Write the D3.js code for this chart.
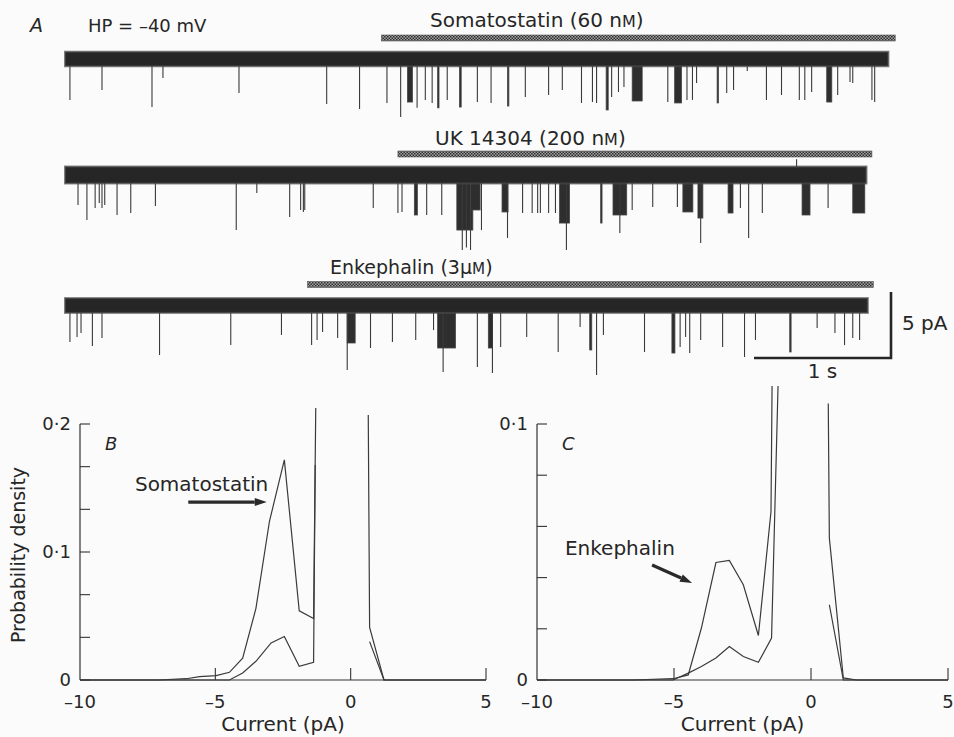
<!DOCTYPE html>
<html>
<head>
<meta charset="utf-8">
<script src="https://cdn.jsdelivr.net/npm/d3@7"></script>
<style>
  html, body { margin: 0; padding: 0; background: #fbfbfb; }
  svg { display: block; font-family: "DejaVu Sans", sans-serif; }
  text { fill: #262626; }
</style>
</head>
<body>
<svg id="chart" width="954" height="737"></svg>
<script>
// ---------------- DATA ----------------
// Panel A: single-channel traces. Events: [time (s), amplitude (pA), duration (s)]
const traceNames = ["Somatostatin", "UK 14304", "Enkephalin"];
const drugLabels = ["Somatostatin (60 n", "UK 14304 (200 n", "Enkephalin (3\u03bc"];
const drugUnitTail = ["M)", "M)", "M)"];
const traceDurations = [6.01, 5.85, 5.86];
const drugOn = [2.31, 2.43, 1.77];
const drugOff = [6.06, 5.89, 5.90];
const bandHalfWidth = [0.55, 0.64, 0.56]; // pA, open-channel noise band
const upEvents2 = [[5.34, 1.2]];

const events1 = [
  [0.036,-3.1,0],[0.27,-2.35,0],[0.635,-3.64,0],[0.715,-1.44,0],[1.27,-2.58,0],
  [1.91,-3.41,0],[2.15,-3.79,0],[2.35,-3.33,0],[2.45,-4.39,0],[2.50,-3.26,0.036],
  [2.57,-3.7,0],[2.63,-3.1,0],[2.68,-3.33,0],[2.72,-3.7,0.01],[2.79,-3.1,0],
  [2.88,-3.64,0.012],[3.01,-3.26,0],[3.11,-3.33,0],[3.23,-3.56,0.01],[3.36,-2.88,0],
  [3.53,-2.73,0],[3.63,-2.35,0],[3.77,-3.33,0],[3.85,-3.26,0],[3.88,-3.33,0],
  [3.95,-3.86,0.015],[3.99,-2.88,0],[4.04,-2.5,0],[4.08,-2.12,0],[4.14,-3.18,0.073],
  [4.40,-3.26,0],[4.45,-3.33,0.05],[4.54,-3.1,0],[4.58,-3.1,0],[4.61,-1.82,0],
  [4.76,-3.33,0.01],[4.83,-2.58,0],[4.88,-2.35,0],[4.98,-0.9,0],[5.12,-3.1,0],
  [5.23,-2.73,0],[5.36,-3.1,0],[5.40,-3.1,0],[5.45,-2.5,0],[5.56,-3.26,0.037],
  [5.64,-2.73,0],[5.73,-1.74,0],[5.75,-1.82,0],[5.89,-3.1,0],[5.91,-3.26,0]
];
const events2 = [
  [0.095,-2.27,0],[0.16,-3.41,0],[0.22,-2.5,0],[0.25,-2.12,0],[0.27,-2.5,0],
  [0.29,-2.27,0],[0.38,-3.03,0],[0.48,-2.88,0],[0.66,-2.35,0],[1.25,-4.17,0],
  [1.40,-1.36,0],[1.64,-3.18,0],[1.72,-2.65,0],[1.74,-2.8,0],[1.75,-2.65,0],
  [2.25,-2.5,0],[2.43,-2.88,0],[2.46,-2.8,0],[2.55,-3.03,0.022],[2.64,-3.03,0],
  [2.75,-3.03,0],[2.86,-4.17,0.117],[2.90,-5.68,0],[2.93,-5.5,0],[2.96,-5.68,0],
  [2.96,-2.65,0.07],[3.04,-4.17,0],[3.19,-2.8,0.044],[3.23,-4.77,0],[3.34,-2.88,0],
  [3.41,-2.88,0],[3.45,-2.88,0],[3.47,-2.88,0],[3.53,-2.88,0],[3.58,-2.88,0],
  [3.61,-3.64,0.073],[3.66,-5.68,0],[3.91,-3.64,0.01],[4.0,-3.03,0.10],[4.05,-4.4,0],
  [4.14,-2.65,0],[4.29,-2.42,0],[4.47,-2.42,0],[4.51,-2.8,0.073],[4.62,-3.26,0.036],
  [4.64,-5.15,0],[4.84,-2.88,0.036],[4.93,-2.5,0],[4.99,-4.77,0],[5.09,-2.88,0],
  [5.38,-3.03,0.058],[5.57,-2.5,0],[5.75,-2.88,0.088]
];
const events3 = [
  [0.036,-2.77,0],[0.088,-2.39,0],[0.117,-2.08,0],[0.20,-3.07,0],[0.27,-2.46,0],
  [0.69,-3.75,0],[1.21,-3.0,0],[1.58,-2.23,0],[1.80,-3.0,0],[1.84,-2.61,0],
  [1.88,-2.0,0],[1.99,-2.46,0],[2.06,-2.84,0.058],[2.06,-4.89,0],[2.23,-3.22,0],
  [2.39,-2.77,0],[2.56,-2.61,0],[2.69,-1.86,0],[2.72,-3.22,0.13],[2.76,-5.04,0],
  [3.01,-4.66,0],[3.09,-3.22,0.03],[3.12,-5.11,0],[3.18,-3.14,0],[3.37,-2.39,0],
  [3.60,-3.52,0],[3.76,-1.63,0],[3.83,-3.37,0.015],[3.88,-5.27,0],[3.93,-2.23,0],
  [4.23,-3.52,0],[4.43,-3.6,0.022],[4.49,-3.14,0],[4.53,-2.39,0],[4.56,-3.6,0],
  [4.64,-2.61,0],[4.80,-3.14,0],[4.96,-3.9,0],[5.04,-2.61,0],[5.29,-3.52,0.01],
  [5.49,-1.71,0],[5.62,-2.08,0],[5.69,-3.0,0],[5.75,-2.46,0],[5.80,-2.61,0]
];
const traceEvents = [events1, events2, events3];
const scaleBarTime = 1;    // s
const scaleBarCurrent = 5; // pA

// Panel B: amplitude histograms (current pA, probability density)
const bSomatostatin = [[-10,0],[-7.1,0],[-6.07,0.001],[-5.58,0.0026],[-4.97,0.0034],[-4.48,0.006],
  [-3.99,0.017],[-3.50,0.056],[-3.0,0.124],[-2.45,0.172],[-1.90,0.054],[-1.37,0.048],[-1.29,0.2125]];
const bSomatostatinRight = [[0.65,0.207],[0.70,0.041],[1.23,0],[5,0]];
const bControl = [[-10,0],[-4.48,0],[-3.99,0.0055],[-3.50,0.0146],[-2.94,0.029],[-2.45,0.034],
  [-1.90,0.0107],[-1.37,0.0138],[-1.31,0.168]];
const bControlRight = [[0.70,0.030],[1.23,0],[5,0]];

// Panel C
const cEnkephalin = [[-10,0],[-6.5,0],[-5.03,0.0005],[-4.48,0.002],[-4.0,0.0203],[-3.47,0.0459],
  [-2.98,0.0467],[-2.47,0.0372],[-1.92,0.0174],[-1.46,0.0658],[-1.42,0.116]];
const cEnkephalinRight = [[0.63,0.108],[0.67,0.0554],[1.18,0.0008],[1.67,0],[5,0]];
const cControl = [[-10,0],[-5.03,0],[-4.48,0.0027],[-4.0,0.0053],[-3.47,0.0086],[-2.98,0.0131],
  [-2.47,0.0092],[-1.92,0.0069],[-1.44,0.0164],[-1.2,0.116]];
const cControlRight = [[0.67,0.0294],[1.18,0],[5,0]];

const xTicks = [-10, -5, 0, 5];
const bYTicks = [0, 1/30, 2/30, 0.1, 4/30, 5/30, 0.2];
const bYLabels = {"0":"0", "0.1":"0\u00b71", "0.2":"0\u00b72"};
const cYTicks = [0, 0.02, 0.04, 0.06, 0.08, 0.1];
const cYLabels = {"0":"0", "0.1":"0\u00b71"};

// ---------------- DRAW ----------------
const svg = d3.select("#chart");
const ink = "#262626";

const defs = svg.append("defs");
const pat = defs.append("pattern").attr("id","hatch").attr("width",3).attr("height",3)
  .attr("patternUnits","userSpaceOnUse");
pat.append("rect").attr("width",3).attr("height",3).attr("fill","#a0a0a0");
pat.append("rect").attr("width",1.5).attr("height",1.5).attr("fill","#303030");
pat.append("rect").attr("x",1.5).attr("y",1.5).attr("width",1.5).attr("height",1.5).attr("fill","#303030");

// Panel A
const tScale = d3.scaleLinear().domain([0, 6]).range([65, 65 + 6 * 137]);
const centers = [59, 175, 305.5];
const pxPerPA = 13.2;

svg.append("text").attr("x",30).attr("y",32).attr("font-size",19).attr("font-style","italic").text("A");
svg.append("text").attr("x",88).attr("y",32).attr("font-size",18).text("HP = \u201340 mV");

const labelX = [430, 435, 330];
const labelDy = [-32, -30, -32];
const labelSize = [20, 20, 19];

traceEvents.forEach((evs, i) => {
  const c = centers[i];
  const y = d3.scaleLinear().domain([-5, 0]).range([c + 5 * pxPerPA, c]);
  const g = svg.append("g");
  const h = bandHalfWidth[i];
  // drug bar
  g.append("rect")
    .attr("x", tScale(drugOn[i])).attr("width", tScale(drugOff[i]) - tScale(drugOn[i]))
    .attr("y", c - 24).attr("height", 6)
    .attr("fill","url(#hatch)").attr("stroke","#555").attr("stroke-width",0.6);
  const t = g.append("text").attr("x", labelX[i]).attr("y", c + labelDy[i]).attr("font-size", labelSize[i]);
  t.append("tspan").text(drugLabels[i]);
  t.append("tspan").attr("font-size", labelSize[i] * 0.8).text(drugUnitTail[i].slice(0,1));
  t.append("tspan").text(drugUnitTail[i].slice(1));
  // events (downward openings)
  evs.forEach(e => {
    const [tt, amp, dur] = e;
    if (dur > 0) {
      g.append("rect").attr("x", tScale(tt)).attr("width", Math.max(1.3, tScale(tt + dur) - tScale(tt)))
        .attr("y", y(0)).attr("height", y(amp) - y(0)).attr("fill", "#2e2e2e")
        .attr("stroke", "#444").attr("stroke-width", 0.8);
    } else {
      g.append("line").attr("x1", tScale(tt)).attr("x2", tScale(tt))
        .attr("y1", y(0)).attr("y2", y(amp)).attr("stroke", "#3a3a3a").attr("stroke-width", 1.1);
    }
  });
  if (i === 1) {
    upEvents2.forEach(e => {
      g.append("line").attr("x1", tScale(e[0])).attr("x2", tScale(e[0]))
        .attr("y1", y(0)).attr("y2", y(e[1])).attr("stroke", "#3a3a3a").attr("stroke-width", 1.1);
    });
  }
  // noise band (with soft edge halo for the flicker noise)
  g.append("rect").attr("x", tScale(0)).attr("width", tScale(traceDurations[i]) - tScale(0))
    .attr("y", y(h)).attr("height", y(-h) - y(h)).attr("fill", "#262626")
    .attr("stroke", "#4a4a4a").attr("stroke-width", 2).attr("stroke-opacity", 0.7);
});

// scale bars (based on trace 3 scale)
{
  const c = centers[2];
  const y = d3.scaleLinear().domain([-5, 0]).range([c + 5 * pxPerPA, c]);
  const xEnd = 891;
  const x0 = xEnd - (tScale(scaleBarTime) - tScale(0));
  const yBot = 358;
  const yTop = yBot - (y(-scaleBarCurrent) - y(0));
  svg.append("path").attr("d", `M${x0},${yBot}H${xEnd}V${yTop}`)
    .attr("fill","none").attr("stroke", ink).attr("stroke-width", 2.6);
  svg.append("text").attr("x", xEnd + 11).attr("y", 330).attr("font-size", 20).text("5 pA");
  svg.append("text").attr("x", (x0 + xEnd) / 2).attr("y", 378).attr("font-size", 20)
    .attr("text-anchor","middle").text("1 s");
}

// Histogram panels
function panel(opts) {
  const x = d3.scaleLinear().domain([-10, 5]).range([opts.x0, opts.x1]);
  const y = d3.scaleLinear().domain([0, opts.ymax]).range([680, 424]);
  const g = svg.append("g");
  const clipId = "clip" + opts.id;
  defs.append("clipPath").attr("id", clipId).append("rect")
    .attr("x", opts.x0).attr("y", opts.clipTop).attr("width", opts.x1 - opts.x0 + 2).attr("height", 682 - opts.clipTop);
  // axes
  g.append("line").attr("x1", x(-10)).attr("x2", x(5)).attr("y1", y(0)).attr("y2", y(0))
    .attr("stroke", "#333").attr("stroke-width", 1.2);
  g.append("line").attr("x1", x(-10)).attr("x2", x(-10)).attr("y1", y(0)).attr("y2", y(opts.ymax))
    .attr("stroke", "#333").attr("stroke-width", 1.2);
  opts.yTicks.forEach(v => {
    g.append("line").attr("x1", x(-10)).attr("x2", x(-10) + 10).attr("y1", y(v)).attr("y2", y(v))
      .attr("stroke", "#333").attr("stroke-width", 1.1);
  });
  Object.keys(opts.yLabels).forEach(k => {
    g.append("text").attr("x", x(-10) - 9).attr("y", y(+k)).attr("dy", "0.36em")
      .attr("text-anchor", "end").attr("font-size", 18).text(opts.yLabels[k]);
  });
  xTicks.forEach(v => {
    if (v !== -10) g.append("line").attr("x1", x(v)).attr("x2", x(v)).attr("y1", y(0)).attr("y2", y(0) - 12)
      .attr("stroke", "#333").attr("stroke-width", 1.1);
    g.append("text").attr("x", x(v)).attr("y", 708).attr("text-anchor", "middle").attr("font-size", 18)
      .text(v < 0 ? "\u2013" + Math.abs(v) : String(v));
  });
  g.append("text").attr("x", (opts.x0 + opts.x1) / 2).attr("y", 731).attr("text-anchor", "middle")
    .attr("font-size", 20).text("Current (pA)");
  g.append("text").attr("x", opts.letterX).attr("y", 450).attr("font-size", 18)
    .attr("font-style", "italic").text(opts.letter);
  const line = d3.line().x(d => x(d[0])).y(d => y(d[1]));
  const lg = g.append("g").attr("clip-path", `url(#${clipId})`);
  opts.series.forEach(s => {
    lg.append("path").attr("d", line(s)).attr("fill", "none").attr("stroke", "#3a3a3a").attr("stroke-width", 1.2);
  });
  // annotation
  g.append("text").attr("x", x(opts.ann.tx)).attr("y", y(opts.ann.ty)).attr("font-size", 20).text(opts.ann.text);
  const ax0 = x(opts.ann.a0[0]), ay0 = y(opts.ann.a0[1]), ax1 = x(opts.ann.a1[0]), ay1 = y(opts.ann.a1[1]);
  const ang = Math.atan2(ay1 - ay0, ax1 - ax0);
  const hl = 12, hw = 4;
  const bx = ax1 - hl * Math.cos(ang), by = ay1 - hl * Math.sin(ang);
  g.append("line").attr("x1", ax0).attr("y1", ay0).attr("x2", bx).attr("y2", by)
    .attr("stroke", "#2a2a2a").attr("stroke-width", 3.2);
  g.append("path").attr("d",
    `M${ax1},${ay1}L${bx - hw * Math.sin(ang)},${by + hw * Math.cos(ang)}L${bx + hw * Math.sin(ang)},${by - hw * Math.cos(ang)}Z`)
    .attr("fill", "#2a2a2a");
  return {x, y};
}

panel({id:"B", x0:80, x1:486, ymax:0.2, clipTop:406, yTicks:bYTicks, yLabels:bYLabels,
  letter:"B", letterX:105,
  series:[bSomatostatin, bSomatostatinRight, bControl, bControlRight],
  ann:{text:"Somatostatin", tx:-7.97, ty:0.1477, a0:[-6.0,0.139], a1:[-3.1,0.139]}});

panel({id:"C", x0:537, x1:948, ymax:0.1, clipTop:386, yTicks:cYTicks, yLabels:cYLabels,
  letter:"C", letterX:562,
  series:[cEnkephalin, cEnkephalinRight, cControl, cControlRight],
  ann:{text:"Enkephalin", tx:-8.98, ty:0.0488, a0:[-5.8,0.0449], a1:[-4.34,0.0379]}});

// y axis title
svg.append("text").attr("transform", "translate(25,555) rotate(-90)").attr("text-anchor", "middle")
  .attr("font-size", 19).text("Probability density");
</script>
</body>
</html>
